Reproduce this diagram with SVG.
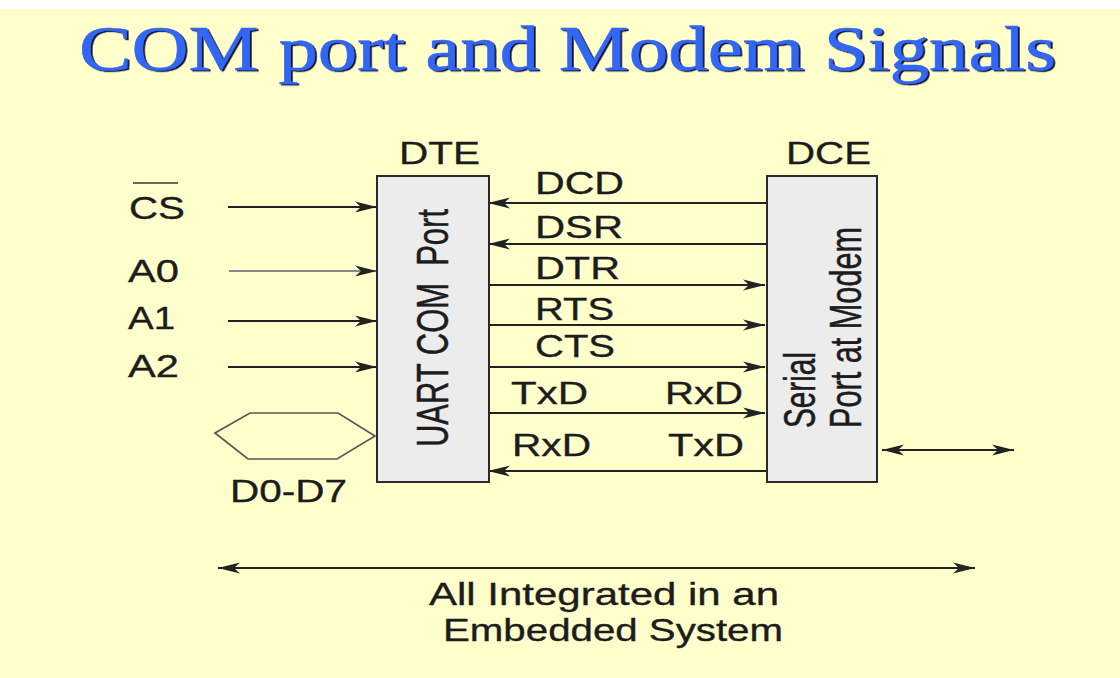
<svg xmlns="http://www.w3.org/2000/svg" width="1120" height="678" viewBox="0 0 1120 678">
<style>
.l{font-family:"Liberation Sans",Arial,sans-serif;font-size:32px;fill:#1c1c1c;stroke:#1c1c1c;stroke-width:.35}
.r{font-size:44px;stroke-width:.5}
.t{font-family:"Liberation Serif","Times New Roman",serif;font-size:63px;fill:#3366f5;stroke:#3366f5;stroke-width:.5;filter:url(#sh)}
.b{fill:#ececec;stroke:#2a2a2a;stroke-width:2}
.w{fill:none;stroke:#222;stroke-width:1.8}
</style>
<defs>
<marker id="a" markerUnits="userSpaceOnUse" markerWidth="24" markerHeight="14" refX="22" refY="7" orient="auto-start-reverse"><path d="M0 1.5L22 7L0 12.5L6 7Z" fill="#222"/></marker>
<filter id="sh" x="-2%" y="-10%" width="104%" height="120%"><feDropShadow dx="1.8" dy="1.2" stdDeviation="0.4" flood-color="#10102a"/></filter>
</defs>
<rect width="1120" height="678" fill="#fff"/>
<rect y="9" width="1120" height="669" fill="#ffffcc"/>
<text id="title" class="t" x="79" y="70" textLength="977" lengthAdjust="spacingAndGlyphs">COM port and Modem Signals</text>
<g id="connectors">
<path class="w" marker-end="url(#a)" d="M228 207H377"/>
<path class="w" marker-end="url(#a)" d="M229 271H377" style="stroke:#888"/>
<path class="w" marker-end="url(#a)" d="M228 321H377"/>
<path class="w" marker-end="url(#a)" d="M228 367H377"/>
<path class="w" marker-end="url(#a)" d="M767 203H488"/>
<path class="w" marker-end="url(#a)" d="M767 244H488"/>
<path class="w" marker-end="url(#a)" d="M489 285H765"/>
<path class="w" marker-end="url(#a)" d="M489 325H765"/>
<path class="w" marker-end="url(#a)" d="M489 367H765"/>
<path class="w" marker-end="url(#a)" d="M489 413H765"/>
<path class="w" marker-end="url(#a)" d="M767 471H488"/>
<path class="w" marker-start="url(#a)" marker-end="url(#a)" d="M882 450H1014"/>
<path class="w" marker-start="url(#a)" marker-end="url(#a)" d="M218 568H975"/>
</g>
<g id="dte"><rect class="b" x="377" y="176" width="112" height="306"/>
<text class="l" x="399" y="164" textLength="81" lengthAdjust="spacingAndGlyphs">DTE</text>
<text class="l r" transform="translate(448 447) rotate(-90)" textLength="238" lengthAdjust="spacingAndGlyphs" xml:space="preserve">UART COM  Port</text></g>
<g id="dce"><rect class="b" x="767" y="176" width="110" height="306"/>
<text class="l" x="786" y="164" textLength="85" lengthAdjust="spacingAndGlyphs">DCE</text>
<text class="l r" transform="translate(815 428) rotate(-90)" textLength="76" lengthAdjust="spacingAndGlyphs">Serial</text>
<text class="l r" transform="translate(861 428) rotate(-90)" textLength="201" lengthAdjust="spacingAndGlyphs">Port at Modem</text></g>
<g id="bus"><path d="M215 433L250 413H338L375 436L337 459H248Z" fill="none" stroke="#555" stroke-width="1.6"/>
<text class="l" x="230" y="502" textLength="117" lengthAdjust="spacingAndGlyphs">D0-D7</text></g>
<g id="labels">
<text class="l" x="129" y="219" textLength="56" lengthAdjust="spacingAndGlyphs">CS</text>
<path d="M133 183H178" stroke="#333" stroke-width="1.5"/>
<text class="l" x="128" y="282" textLength="51" lengthAdjust="spacingAndGlyphs">A0</text>
<text class="l" x="128" y="329" textLength="47" lengthAdjust="spacingAndGlyphs">A1</text>
<text class="l" x="128" y="377" textLength="51" lengthAdjust="spacingAndGlyphs">A2</text>
<text class="l" x="535" y="194" textLength="89" lengthAdjust="spacingAndGlyphs">DCD</text>
<text class="l" x="535" y="238" textLength="88" lengthAdjust="spacingAndGlyphs">DSR</text>
<text class="l" x="535" y="279" textLength="85" lengthAdjust="spacingAndGlyphs">DTR</text>
<text class="l" x="535" y="320" textLength="79" lengthAdjust="spacingAndGlyphs">RTS</text>
<text class="l" x="535" y="357" textLength="80" lengthAdjust="spacingAndGlyphs">CTS</text>
<text class="l" x="511" y="404" textLength="77" lengthAdjust="spacingAndGlyphs">TxD</text>
<text class="l" x="665" y="404" textLength="78" lengthAdjust="spacingAndGlyphs">RxD</text>
<text class="l" x="512" y="456" textLength="79" lengthAdjust="spacingAndGlyphs">RxD</text>
<text class="l" x="668" y="456" textLength="76" lengthAdjust="spacingAndGlyphs">TxD</text>
<text class="l" x="429" y="605" textLength="350" lengthAdjust="spacingAndGlyphs">All Integrated in an</text>
<text class="l" x="443" y="641" textLength="340" lengthAdjust="spacingAndGlyphs">Embedded System</text>
</g>
</svg>
